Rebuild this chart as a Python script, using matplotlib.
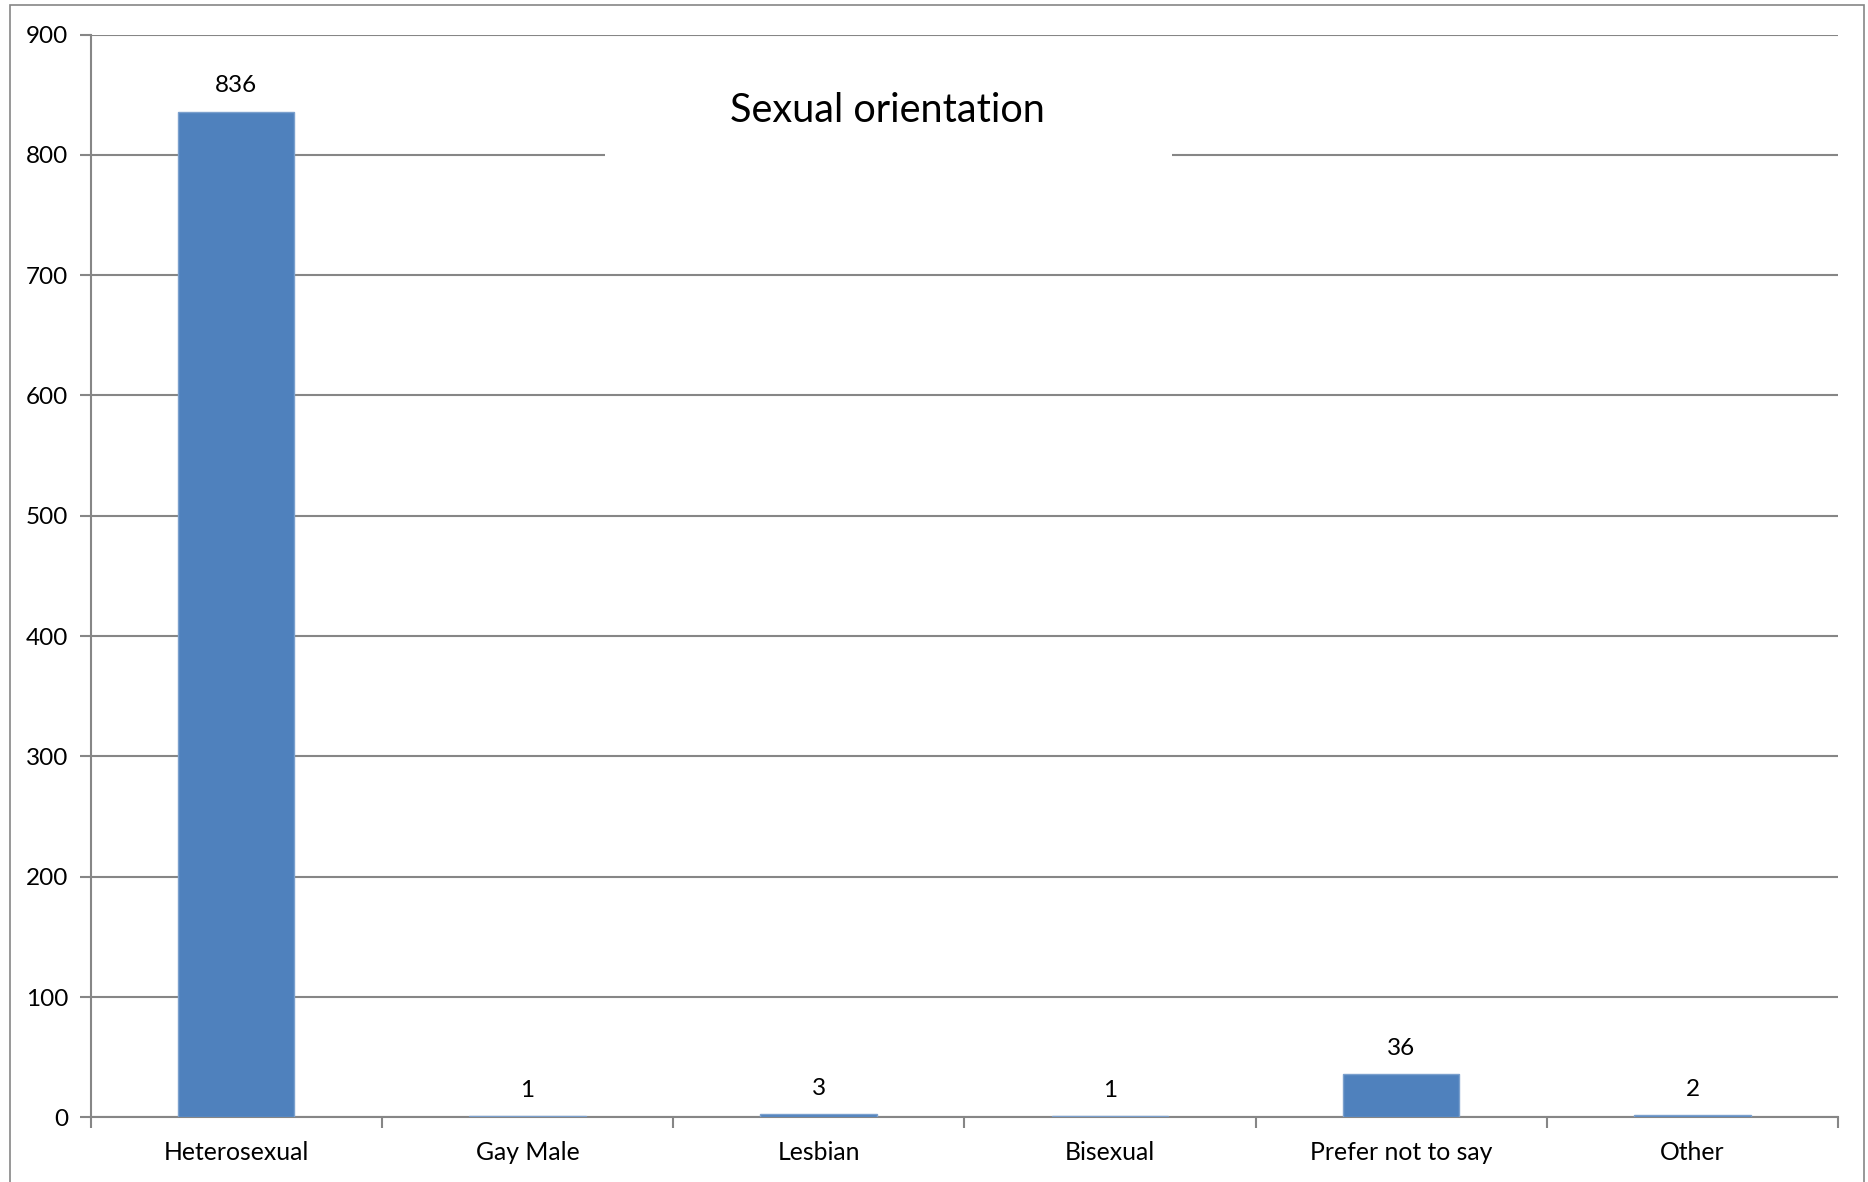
import numpy as np
import matplotlib
matplotlib.use("Agg")
import matplotlib.pyplot as plt
from matplotlib.patches import Rectangle

categorias = ["Heterosexual", "Gay Male", "Lesbian", "Bisexual", "Prefer not to say", "Other"]
valores = [836, 1, 3, 1, 36, 2]
yticks = [0, 100, 200, 300, 400, 500, 600, 700, 800, 900]

plt.rcParams['font.family'] = ['Lato', 'DejaVu Sans']

azul = '#4F81BD'
gris = '#868686'

fig = plt.figure(figsize=(18.68, 11.82), dpi=100)
ax = fig.add_axes([0.0485, 0.0546, 0.9355, 0.9162])

x = np.arange(len(categorias))
ax.bar(x, valores, width=0.40, color=azul, edgecolor='#7BA0CD', linewidth=1, zorder=3)

# etiquetas de valor encima de cada barra
for xi, v in zip(x, valores):
    ax.annotate(str(v), (xi, v), xytext=(0, 11), textcoords='offset points',
                ha='center', va='bottom', fontsize=17.5, color='black')

ax.set_xlim(-0.5, len(categorias) - 0.5)
ax.set_ylim(0, 900)
ax.set_yticks(yticks)
ax.set_yticklabels([str(t) for t in yticks], fontsize=17.5)
ax.set_xticks(x)
ax.set_xticklabels(categorias, fontsize=17.8)
ax.set_xticks(np.arange(-0.5, len(categorias)), minor=True)
ax.tick_params(axis='x', which='major', length=0, pad=17)
ax.tick_params(axis='x', which='minor', length=8, width=1.5, color=gris, direction='out')
ax.tick_params(axis='y', length=8, width=1.5, color=gris, pad=8)

ax.grid(axis='y', color=gris, linewidth=1.5, zorder=0)
ax.set_axisbelow(True)
for lado in ['top', 'right']:
    ax.spines[lado].set_visible(False)
for lado in ['left', 'bottom']:
    ax.spines[lado].set_color(gris)
    ax.spines[lado].set_linewidth(1.5)

# marco exterior del grafico
fig.patches.append(Rectangle((9.5 / 1868, -0.01), (1864 - 9.5) / 1868, 1.0 - 5 / 1182 + 0.01,
                             transform=fig.transFigure, fill=False, edgecolor=gris,
                             linewidth=1.2, zorder=5))

# fondo blanco del titulo
fig.patches.append(Rectangle((605 / 1868, 1 - 170 / 1182), (1172 - 605) / 1868, 110 / 1182,
                             transform=fig.transFigure, facecolor='white', edgecolor='none',
                             zorder=2))
fig.text(887 / 1868, 1 - 111 / 1182, "Sexual orientation", ha='center', va='center',
         fontsize=28.6, color='black', zorder=3)

fig.savefig("out.png", dpi=100, facecolor='white')
